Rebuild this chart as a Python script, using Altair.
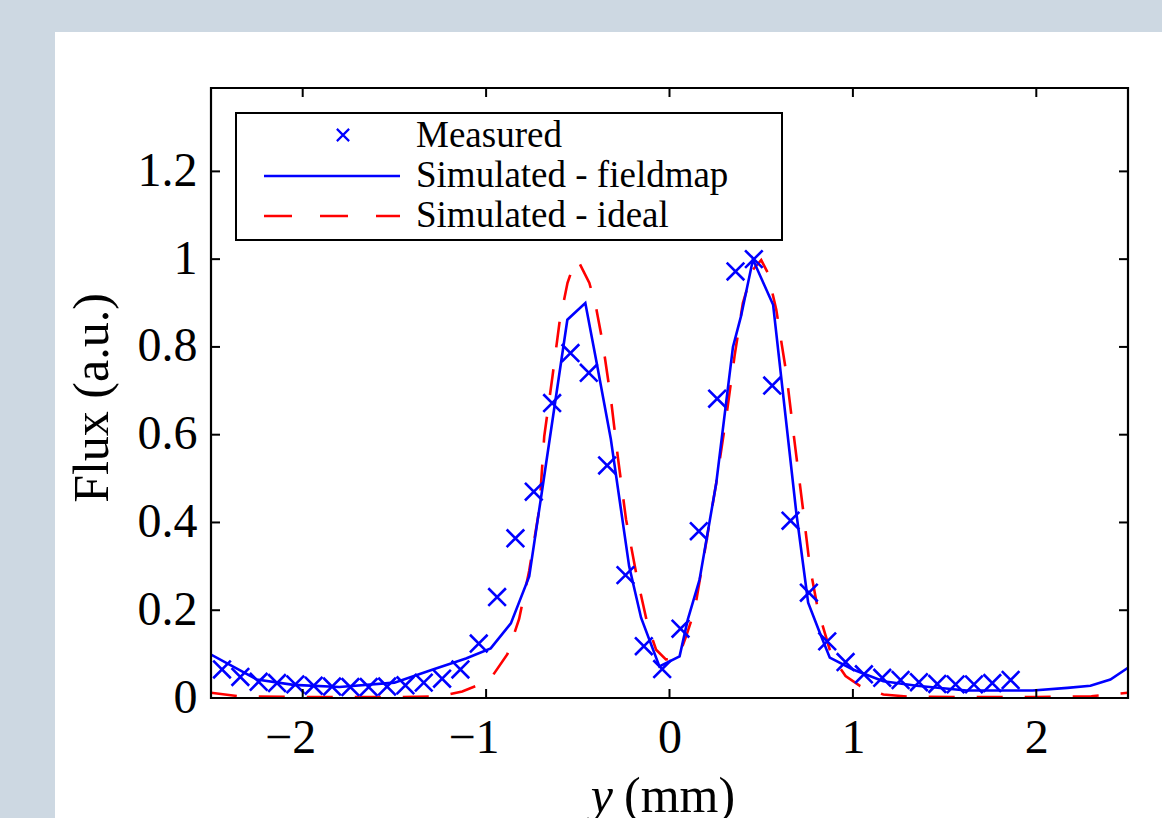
import altair as alt
import pandas as pd

# ---------------- data ----------------
meas_x = [-2.44, -2.34, -2.24, -2.14, -2.04, -1.94, -1.84, -1.74, -1.64, -1.54,
          -1.44, -1.34, -1.24, -1.14, -1.04, -0.94, -0.84, -0.74, -0.64, -0.54,
          -0.44, -0.34, -0.24, -0.14, -0.04, 0.06, 0.16, 0.26, 0.36, 0.46,
          0.56, 0.66, 0.76, 0.86, 0.96, 1.06, 1.16, 1.26, 1.36, 1.46,
          1.56, 1.66, 1.76, 1.86]
meas_y = [0.065, 0.048, 0.037, 0.034, 0.031, 0.028, 0.026, 0.025, 0.025, 0.026,
          0.029, 0.035, 0.044, 0.065, 0.124, 0.230, 0.364, 0.470, 0.672, 0.786,
          0.741, 0.530, 0.280, 0.118, 0.066, 0.158, 0.380, 0.682, 0.972, 1.000,
          0.712, 0.404, 0.240, 0.129, 0.082, 0.054, 0.046, 0.041, 0.036, 0.032,
          0.031, 0.031, 0.034, 0.041]

field_x = [-2.50, -2.25, -2.05, -1.80, -1.50, -1.29, -1.11, -0.975, -0.865, -0.765,
           -0.69, -0.557, -0.459, -0.40, -0.32, -0.22, -0.155, -0.055, 0.055, 0.10,
           0.164, 0.255, 0.346, 0.39, 0.455, 0.565, 0.692, 0.756, 0.82, 0.874,
           1.0, 1.166, 1.348, 1.62, 1.98, 2.17, 2.295, 2.404, 2.5]
field_y = [0.099, 0.042, 0.030, 0.025, 0.035, 0.065, 0.090, 0.113, 0.170, 0.277,
           0.486, 0.862, 0.900, 0.770, 0.590, 0.300, 0.183, 0.072, 0.095, 0.179,
           0.270, 0.490, 0.800, 0.870, 0.999, 0.896, 0.420, 0.217, 0.148, 0.092,
           0.065, 0.038, 0.028, 0.017, 0.017, 0.023, 0.028, 0.042, 0.069]

ideal_x = [-2.50, -2.35, -2.0, -1.5, -1.25, -1.13, -1.04, -0.966, -0.884, -0.82,
           -0.765, -0.71, -0.683, -0.638, -0.60, -0.556, -0.519, -0.50, -0.437, -0.40,
           -0.364, -0.319, -0.282, -0.237, -0.182, -0.118, -0.073, -0.02, 0.03, 0.055,
           0.091, 0.137, 0.20, 0.255, 0.31, 0.355, 0.40, 0.455, 0.50, 0.536,
           0.582, 0.637, 0.683, 0.728, 0.765, 0.81, 0.874, 0.91, 0.96, 1.04,
           1.166, 1.3, 1.6, 2.0, 2.3, 2.5]
ideal_y = [0.012, 0.004, 0.002, 0.002, 0.004, 0.015, 0.030, 0.050, 0.100, 0.180,
           0.290, 0.430, 0.596, 0.733, 0.855, 0.946, 0.991, 0.998, 0.946, 0.889,
           0.809, 0.680, 0.550, 0.407, 0.285, 0.164, 0.110, 0.088, 0.090, 0.100,
           0.141, 0.200, 0.354, 0.490, 0.642, 0.780, 0.900, 0.976, 0.998, 0.969,
           0.885, 0.740, 0.580, 0.430, 0.300, 0.200, 0.110, 0.080, 0.050, 0.027,
           0.008, 0.003, 0.002, 0.002, 0.004, 0.012]

x_ticks = [-2, -1, 0, 1, 2]
y_ticks = [0, 0.2, 0.4, 0.6, 0.8, 1.0, 1.2]
legend_labels = ["Measured", "Simulated - fieldmap", "Simulated - ideal"]

# ---------------- chart ----------------
W, H = 917, 610
FONT = "Liberation Serif"
BLUE = "#0000ff"
RED = "#ff0000"
XPATH = "M-1,-1L1,1M1,-1L-1,1"

xs = alt.Scale(domain=[-2.5, 2.5], nice=False, zero=False)
ys = alt.Scale(domain=[0, 1.39], nice=False, zero=False)
xaxis = alt.Axis(values=x_ticks, format="~g", ticks=False, tickSize=0, domain=False,
                 grid=False, labelFont=FONT, labelFontSize=48, labelColor="black",
                 labelPadding=16, title=None, labelFlush=False, zindex=2,
                 labelAlign={"condition": {"test": "datum.value < 0", "value": "right"},
                             "value": "center"},
                 labelOffset={"condition": {"test": "datum.value < 0", "value": 13},
                              "value": 0})
yaxis = alt.Axis(values=y_ticks, format="~g", ticks=False, tickSize=0, domain=False,
                 grid=False, labelFont=FONT, labelFontSize=48, labelColor="black",
                 labelPadding=14, title=None, zindex=2)

meas = pd.DataFrame({"x": meas_x, "y": meas_y})
field = pd.DataFrame({"x": field_x, "y": field_y})
ideal = pd.DataFrame({"x": ideal_x, "y": ideal_y})
xt = pd.DataFrame({"v": x_ticks})
yt = pd.DataFrame({"v": y_ticks})
one = pd.DataFrame({"a": [0]})

bg = alt.Chart(one).mark_rect(fill="white").encode(
    x=alt.value(-156), x2=alt.value(W + 40), y=alt.value(-56), y2=alt.value(H + 130))

ideal_line = alt.Chart(ideal).mark_line(color=RED, strokeWidth=2.6, strokeDash=[26, 22],
                                        clip=True).encode(
    x=alt.X("x:Q", scale=xs, axis=xaxis), y=alt.Y("y:Q", scale=ys, axis=yaxis))

field_line = alt.Chart(field).mark_line(color=BLUE, strokeWidth=2.6, clip=True).encode(
    x=alt.X("x:Q", scale=xs, axis=xaxis), y=alt.Y("y:Q", scale=ys, axis=yaxis))

meas_pts = alt.Chart(meas).mark_point(shape=XPATH, size=310, filled=False, strokeWidth=2.6,
                                      color=BLUE, opacity=1).encode(
    x=alt.X("x:Q", scale=xs, axis=xaxis), y=alt.Y("y:Q", scale=ys, axis=yaxis))

TL = 9
xt_bot = alt.Chart(xt).mark_rule(color="black", strokeWidth=2).encode(
    x=alt.X("v:Q", scale=xs, axis=xaxis), y=alt.value(H - TL), y2=alt.value(H))
xt_top = alt.Chart(xt).mark_rule(color="black", strokeWidth=2).encode(
    x=alt.X("v:Q", scale=xs, axis=xaxis), y=alt.value(0), y2=alt.value(TL))
yt_left = alt.Chart(yt).mark_rule(color="black", strokeWidth=2).encode(
    y=alt.Y("v:Q", scale=ys, axis=yaxis), x=alt.value(0), x2=alt.value(TL))
yt_right = alt.Chart(yt).mark_rule(color="black", strokeWidth=2).encode(
    y=alt.Y("v:Q", scale=ys, axis=yaxis), x=alt.value(W - TL), x2=alt.value(W))

frame = alt.Chart(one).mark_rect(filled=False, stroke="black", strokeWidth=2.2).encode(
    x=alt.value(0), x2=alt.value(W), y=alt.value(0), y2=alt.value(H))

# legend (drawn by hand)
leg_box = alt.Chart(one).mark_rect(fill="white", stroke="black", strokeWidth=2).encode(
    x=alt.value(25), x2=alt.value(571), y=alt.value(25), y2=alt.value(152))
leg_sym = alt.Chart(one).mark_point(shape=XPATH, size=150, filled=False, strokeWidth=2.2,
                                    color=BLUE, opacity=1).encode(
    x=alt.value(132), y=alt.value(47))
leg_blue = alt.Chart(one).mark_rule(color=BLUE, strokeWidth=2.6).encode(
    x=alt.value(53), x2=alt.value(189), y=alt.value(88))
leg_red = alt.Chart(one).mark_rule(color=RED, strokeWidth=2.6, strokeDash=[28, 28]).encode(
    x=alt.value(53), x2=alt.value(189), y=alt.value(128))
leg_texts = [
    alt.Chart(one).mark_text(font=FONT, fontSize=37, align="left", baseline="middle",
                             color="black").encode(
        x=alt.value(205), y=alt.value(yy), text=alt.value(lbl))
    for lbl, yy in zip(legend_labels, [48, 88, 128])
]

# axis titles
ytitle = alt.Chart(one).mark_text(font=FONT, fontSize=50, angle=270, align="center",
                                  baseline="middle", color="black").encode(
    x=alt.value(-118), y=alt.value(310), text=alt.value("Flux (a.u.)"))
xtitle_y = alt.Chart(one).mark_text(font=FONT, fontSize=50, fontStyle="italic", align="right",
                                    baseline="alphabetic", color="black").encode(
    x=alt.value(402), y=alt.value(724), text=alt.value("y"))
xtitle_mm = alt.Chart(one).mark_text(font=FONT, fontSize=50, align="left",
                                     baseline="alphabetic", color="black").encode(
    x=alt.value(413), y=alt.value(724), text=alt.value("(mm)"))

chart = alt.layer(
    bg, ideal_line, field_line, meas_pts, xt_bot, xt_top, yt_left, yt_right, frame,
    leg_box, leg_sym, leg_blue, leg_red, *leg_texts, ytitle, xtitle_y, xtitle_mm
).properties(
    width=W, height=H,
    background="#cdd8e2",
    padding={"left": 211, "top": 88, "right": 34, "bottom": 120},
    autosize=alt.AutoSizeParams(type="none"),
).configure_view(stroke=None)

chart.save("out.html", embed_options={"renderer": "svg", "actions": False})
